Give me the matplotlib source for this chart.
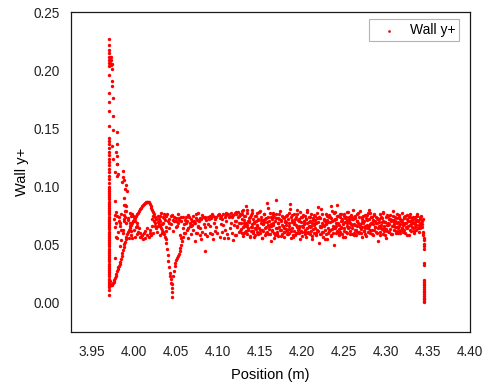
import numpy as np
import matplotlib
matplotlib.use("Agg")
import matplotlib.pyplot as plt

plt.rcParams['font.family'] = ['Liberation Sans', 'DejaVu Sans']

# ---------------- data ----------------
spike_pos = 3.9700
spike_y = [
    0.0069, 0.0112, 0.0135, 0.0152, 0.0171, 0.0190, 0.0208, 0.0227, 0.0246, 0.0263,
    0.0282, 0.0301, 0.0318, 0.0337, 0.0356, 0.0374, 0.0392, 0.0411, 0.0430, 0.0447,
    0.0466, 0.0485, 0.0503, 0.0521, 0.0540, 0.0558, 0.0577, 0.0595, 0.0613, 0.0632,
    0.0650, 0.0669, 0.0687, 0.0706, 0.0724, 0.0742, 0.0761, 0.0779, 0.0798, 0.0816,
    0.0835, 0.0853, 0.0871, 0.0890, 0.0908, 0.0927, 0.0945, 0.0963, 0.0982, 0.1000,
    0.1030, 0.1062, 0.1090, 0.1121, 0.1150, 0.1181, 0.1210, 0.1238, 0.1270, 0.1300,
    0.1330, 0.1362, 0.1390, 0.1420, 0.1520, 0.1647, 0.1727, 0.1800, 0.1957, 0.2040,
    0.2062, 0.2088, 0.2115, 0.2150, 0.2175, 0.2216, 0.2270]

upper_x = [3.9718, 3.9725, 3.9730, 3.9740, 3.9722, 3.9735, 3.9733, 3.9733, 3.9745, 3.9745,
           3.9748, 3.9796, 3.9796, 3.9796, 3.9796, 3.9776, 3.9792, 3.9868, 3.9883, 3.9903,
           3.9890, 3.9876, 3.9768, 3.9905, 3.9855, 3.9872, 3.9733, 3.9745, 3.9780, 3.9800,
           3.9815, 3.9880, 3.9895, 3.9920]
upper_y = [0.2065, 0.2045, 0.2085, 0.2055, 0.2110, 0.2010, 0.1908, 0.1865, 0.1759, 0.1606,
           0.1485, 0.1470, 0.1362, 0.1261, 0.1196, 0.1123, 0.1089, 0.1132, 0.1060, 0.1017,
           0.0975, 0.0900, 0.0873, 0.0830, 0.1035, 0.1085, 0.1347, 0.1233, 0.1300, 0.1190,
           0.1110, 0.0845, 0.0787, 0.0960]

dip_x = [3.9712, 3.9718, 3.9725, 3.9732, 3.9740, 3.9748, 3.9756, 3.9764, 3.9772, 3.9780,
         3.9789, 3.9797, 3.9805, 3.9813, 3.9820, 3.9828, 3.9836, 3.9844, 3.9852, 3.9860,
         3.9868, 3.9876, 3.9884, 3.9892, 3.9900, 3.9908, 3.9918, 3.9928, 3.9938, 3.9948,
         3.9958, 3.9968, 3.9978, 3.9990, 4.0002, 4.0014, 4.0027, 4.0040, 4.0052, 4.0064,
         4.0076, 4.0087, 4.0098, 4.0110, 4.0120, 4.0130, 4.0140, 4.0150, 4.0160, 4.0170,
         4.0178, 4.0188, 4.0198, 4.0208, 4.0218, 4.0228, 4.0240, 4.0252, 4.0266, 4.0280,
         4.0294, 4.0308, 4.0320, 4.0332, 4.0345, 4.0356, 4.0366, 4.0376, 4.0385, 4.0393,
         4.0400, 4.0408, 4.0416, 4.0424, 4.0432, 4.0440, 4.0446, 4.0450, 4.0452, 4.0453,
         4.0458, 4.0464, 4.0472, 4.0484, 4.0494, 4.0505, 4.0515, 4.0524, 4.0535, 4.0545,
         4.0552, 4.0557, 4.0570, 4.0585, 4.0605, 4.0625, 4.0645, 4.0665, 4.0695, 4.0725]
dip_y = [0.0185, 0.0165, 0.0155, 0.0152, 0.0158, 0.0168, 0.0182, 0.0198, 0.0215, 0.0233,
         0.0252, 0.0272, 0.0290, 0.0305, 0.0318, 0.0332, 0.0352, 0.0375, 0.0400, 0.0425,
         0.0452, 0.0478, 0.0502, 0.0525, 0.0548, 0.0568, 0.0592, 0.0612, 0.0630, 0.0645,
         0.0660, 0.0672, 0.0686, 0.0700, 0.0714, 0.0728, 0.0744, 0.0760, 0.0775, 0.0790,
         0.0804, 0.0816, 0.0830, 0.0843, 0.0853, 0.0860, 0.0864, 0.0866, 0.0870, 0.0868,
         0.0866, 0.0850, 0.0832, 0.0812, 0.0795, 0.0778, 0.0760, 0.0740, 0.0718, 0.0698,
         0.0680, 0.0660, 0.0642, 0.0625, 0.0606, 0.0588, 0.0570, 0.0545, 0.0515, 0.0465,
         0.0410, 0.0360, 0.0312, 0.0260, 0.0228, 0.0205, 0.0170, 0.0125, 0.0097, 0.0054,
         0.0165, 0.0227, 0.0270, 0.0313, 0.0345, 0.0370, 0.0388, 0.0400, 0.0420, 0.0442,
         0.0472, 0.0500, 0.0535, 0.0570, 0.0600, 0.0630, 0.0645, 0.0658, 0.0672, 0.0687]

left_x = [3.9769, 3.9796, 3.9789, 3.9780, 3.9822, 3.9834, 3.9796, 3.9834, 3.9769, 3.9868,
          3.9843, 3.9876, 3.9895, 3.9910, 3.9947, 3.9987, 3.9908, 3.9850, 3.9885, 3.9925,
          3.9960, 3.9975, 4.0005, 4.0030, 4.0020, 3.9995, 4.0045, 4.0087, 4.0100, 4.0127,
          4.0110, 4.0070, 4.0150, 4.0186, 4.0160, 4.0226, 4.0240, 4.0250, 4.0210, 4.0260,
          4.0275, 4.0326, 4.0310, 4.0365, 4.0385, 4.0350, 4.0400, 4.0420, 4.0440, 4.0464,
          4.0480, 4.0500, 4.0524, 4.0540, 4.0560, 4.0604, 4.0643, 4.0620, 4.0665, 4.0700,
          4.0744, 4.0760, 4.0544, 4.0560, 4.0600, 4.0723, 4.0385, 4.0306, 4.0286, 4.0330,
          4.0420, 4.0470, 4.0500, 4.0580, 4.0640, 4.0680, 4.0700, 4.0740, 4.0760, 3.9940,
          3.9960, 3.9980, 4.0010, 4.0040, 4.0200, 4.0230, 4.0300, 4.0340, 4.0360, 4.0450,
          4.0520, 4.0580, 4.0680, 4.0720]
left_y = [0.0759, 0.0744, 0.0687, 0.0570, 0.0700, 0.0658, 0.0557, 0.0485, 0.0385, 0.0600,
          0.0630, 0.0759, 0.0845, 0.0787, 0.0773, 0.0700, 0.0687, 0.0543, 0.0718, 0.0730,
          0.0745, 0.0760, 0.0735, 0.0690, 0.0655, 0.0630, 0.0610, 0.0570, 0.0580, 0.0557,
          0.0552, 0.0565, 0.0580, 0.0600, 0.0640, 0.0744, 0.0700, 0.0687, 0.0665, 0.0640,
          0.0610, 0.0773, 0.0750, 0.0716, 0.0744, 0.0690, 0.0700, 0.0725, 0.0680, 0.0716,
          0.0740, 0.0700, 0.0687, 0.0730, 0.0705, 0.0716, 0.0759, 0.0690, 0.0687, 0.0745,
          0.0730, 0.0773, 0.0586, 0.0557, 0.0600, 0.0528, 0.0615, 0.0586, 0.0658, 0.0600,
          0.0640, 0.0620, 0.0650, 0.0640, 0.0560, 0.0590, 0.0625, 0.0600, 0.0650, 0.0560,
          0.0580, 0.0555, 0.0570, 0.0590, 0.0580, 0.0600, 0.0720, 0.0740, 0.0765, 0.0755,
          0.0760, 0.0740, 0.0720, 0.0700]

left2_x = [3.9760, 3.9775, 3.9790, 3.9805, 3.9820, 3.9835, 3.9850, 3.9865, 3.9880, 3.9895,
           3.9930, 3.9950, 3.9970, 3.9990, 4.0015, 4.0035, 4.0055, 4.0075, 4.0095, 4.0115,
           4.0135, 4.0175, 4.0195, 4.0215, 4.0245, 4.0265, 4.0285, 4.0315, 4.0335, 4.0355,
           4.0375, 4.0395, 4.0415, 4.0435, 4.0475, 4.0495, 4.0515, 4.0535, 4.0565, 4.0595,
           4.0615, 4.0635, 4.0655, 4.0675, 4.0695, 4.0715, 4.0735, 4.0755]
left2_y = [0.0720, 0.0650, 0.0780, 0.0610, 0.0735, 0.0690, 0.0765, 0.0628, 0.0700, 0.0742,
           0.0715, 0.0690, 0.0620, 0.0745, 0.0700, 0.0662, 0.0640, 0.0598, 0.0585, 0.0600,
           0.0620, 0.0570, 0.0630, 0.0720, 0.0665, 0.0722, 0.0745, 0.0700, 0.0680, 0.0730,
           0.0652, 0.0760, 0.0690, 0.0745, 0.0700, 0.0728, 0.0660, 0.0712, 0.0740, 0.0680,
           0.0735, 0.0705, 0.0742, 0.0660, 0.0705, 0.0690, 0.0760, 0.0715]

mid_x = [4.076, 4.078, 4.080, 4.082, 4.084, 4.086, 4.088, 4.090, 4.092, 4.094,
         4.096, 4.098, 4.100, 4.102, 4.104, 4.106, 4.108, 4.110, 4.112, 4.114,
         4.116, 4.118, 4.120, 4.122, 4.124, 4.126, 4.128, 4.130,
         4.077, 4.081, 4.085, 4.089, 4.093, 4.097, 4.101, 4.105, 4.109, 4.113,
         4.117, 4.121, 4.125, 4.129, 4.133,
         4.075, 4.078, 4.081, 4.084, 4.087, 4.090, 4.093, 4.096, 4.099, 4.102,
         4.105, 4.108, 4.111, 4.114, 4.117, 4.120, 4.123, 4.126, 4.129,
         4.076, 4.079, 4.083, 4.085, 4.088, 4.091, 4.095, 4.098, 4.103, 4.106,
         4.110, 4.112, 4.115, 4.119, 4.122, 4.127, 4.131, 4.080, 4.094, 4.107,
         4.118, 4.085]
mid_y = [0.0715, 0.0732, 0.0718, 0.0740, 0.0726, 0.0712, 0.0738, 0.0745, 0.0728, 0.0750,
         0.0735, 0.0742, 0.0755, 0.0732, 0.0748, 0.0760, 0.0740, 0.0752, 0.0765, 0.0748,
         0.0770, 0.0758, 0.0775, 0.0762, 0.0780, 0.0768, 0.0790, 0.0800,
         0.0700, 0.0755, 0.0735, 0.0722, 0.0760, 0.0720, 0.0768, 0.0725, 0.0772, 0.0735,
         0.0740, 0.0785, 0.0750, 0.0760, 0.0830,
         0.0600, 0.0585, 0.0610, 0.0592, 0.0575, 0.0605, 0.0588, 0.0620, 0.0598, 0.0570,
         0.0612, 0.0630, 0.0595, 0.0640, 0.0605, 0.0585, 0.0650, 0.0620, 0.0600,
         0.0660, 0.0640, 0.0675, 0.0650, 0.0680, 0.0665, 0.0690, 0.0650, 0.0680, 0.0670,
         0.0700, 0.0560, 0.0685, 0.0672, 0.0700, 0.0690, 0.0660, 0.0550, 0.0545, 0.0560,
         0.0540, 0.0448]

band_x = [
    4.130, 4.131, 4.131, 4.132, 4.133, 4.133, 4.134, 4.134, 4.135, 4.136,
    4.136, 4.137, 4.137, 4.138, 4.139, 4.139, 4.140, 4.140, 4.141, 4.142,
    4.142, 4.143, 4.143, 4.144, 4.145, 4.145, 4.146, 4.146, 4.147, 4.148,
    4.148, 4.149, 4.149, 4.150, 4.151, 4.151, 4.152, 4.152, 4.153, 4.154,
    4.154, 4.155, 4.155, 4.156, 4.157, 4.157, 4.158, 4.158, 4.159, 4.160,
    4.160, 4.161, 4.161, 4.162, 4.163, 4.163, 4.164, 4.164, 4.165, 4.166,
    4.166, 4.167, 4.167, 4.168, 4.169, 4.169, 4.170, 4.170, 4.171, 4.172,
    4.172, 4.173, 4.173, 4.174, 4.175, 4.175, 4.176, 4.176, 4.177, 4.178,
    4.178, 4.179, 4.179, 4.180, 4.181, 4.181, 4.182, 4.182, 4.183, 4.184,
    4.184, 4.185, 4.185, 4.186, 4.187, 4.187, 4.188, 4.188, 4.189, 4.190,
    4.190, 4.191, 4.191, 4.192, 4.193, 4.193, 4.194, 4.194, 4.195, 4.196,
    4.196, 4.197, 4.197, 4.198, 4.199, 4.199, 4.200, 4.200, 4.201, 4.202,
    4.202, 4.203, 4.203, 4.204, 4.205, 4.205, 4.206, 4.206, 4.207, 4.208,
    4.208, 4.209, 4.209, 4.210, 4.211, 4.211, 4.212, 4.212, 4.213, 4.214,
    4.214, 4.215, 4.215, 4.216, 4.217, 4.217, 4.218, 4.218, 4.219, 4.220,
    4.220, 4.221, 4.221, 4.222, 4.223, 4.223, 4.224, 4.224, 4.225, 4.226,
    4.226, 4.227, 4.227, 4.228, 4.229, 4.229, 4.230, 4.230, 4.231, 4.232,
    4.232, 4.233, 4.233, 4.234, 4.235, 4.235, 4.236, 4.236, 4.237, 4.238,
    4.238, 4.239, 4.239, 4.240, 4.241, 4.241, 4.242, 4.242, 4.243, 4.244,
    4.244, 4.245, 4.245, 4.246, 4.247, 4.247, 4.248, 4.248, 4.249, 4.250,
    4.250, 4.251, 4.251, 4.252, 4.253, 4.253, 4.254, 4.254, 4.255, 4.256,
    4.256, 4.257, 4.257, 4.258, 4.259, 4.259, 4.260, 4.260, 4.261, 4.262,
    4.262, 4.263, 4.263, 4.264, 4.265, 4.265, 4.266, 4.266, 4.267, 4.268,
    4.268, 4.269, 4.269, 4.270, 4.271, 4.271, 4.272, 4.272, 4.273, 4.274,
    4.274, 4.275, 4.275, 4.276, 4.277, 4.277, 4.278, 4.278, 4.279, 4.280,
    4.280, 4.281, 4.281, 4.282, 4.283, 4.283, 4.284, 4.284, 4.285, 4.286,
    4.286, 4.287, 4.287, 4.288, 4.289, 4.289, 4.290, 4.290, 4.291, 4.292,
    4.292, 4.293, 4.293, 4.294, 4.295, 4.295, 4.296, 4.296, 4.297, 4.298,
    4.298, 4.299, 4.299, 4.300, 4.301, 4.301, 4.302, 4.302, 4.303, 4.304,
    4.304, 4.305, 4.305, 4.306, 4.307, 4.307, 4.308, 4.308, 4.309, 4.310,
    4.310, 4.311, 4.311, 4.312, 4.313, 4.313, 4.314, 4.314, 4.315, 4.316,
    4.316, 4.317, 4.317, 4.318, 4.319, 4.319, 4.320, 4.320, 4.321, 4.322,
    4.322, 4.323, 4.323, 4.324, 4.325, 4.325, 4.326, 4.326, 4.327, 4.328,
    4.328, 4.329, 4.329, 4.330, 4.331, 4.331, 4.332, 4.332, 4.333, 4.334,
    4.334, 4.335, 4.335, 4.336, 4.337, 4.337, 4.338, 4.338, 4.339, 4.340,
    4.340, 4.341, 4.341, 4.342, 4.342, 4.343, 4.343, 4.343, 4.344, 4.344]
band_y = [
    0.0655, 0.0712, 0.0598, 0.0748, 0.0683, 0.0621, 0.0772, 0.0667, 0.0589, 0.0705,
    0.0640, 0.0731, 0.0692, 0.0575, 0.0758, 0.0618, 0.0680, 0.0799, 0.0655, 0.0602,
    0.0725, 0.0688, 0.0567, 0.0745, 0.0632, 0.0701, 0.0612, 0.0770, 0.0660, 0.0590,
    0.0718, 0.0648, 0.0782, 0.0602, 0.0690, 0.0738, 0.0625, 0.0560, 0.0710, 0.0675,
    0.0615, 0.0760, 0.0695, 0.0583, 0.0728, 0.0650, 0.0862, 0.0607, 0.0742, 0.0668,
    0.0592, 0.0705, 0.0635, 0.0776, 0.0660, 0.0528, 0.0720, 0.0628, 0.0690, 0.0752,
    0.0670, 0.0603, 0.0738, 0.0580, 0.0882, 0.0765, 0.0640, 0.0612, 0.0730, 0.0685,
    0.0571, 0.0717, 0.0655, 0.0793, 0.0628, 0.0700, 0.0595, 0.0745, 0.0662, 0.0610,
    0.0728, 0.0648, 0.0565, 0.0705, 0.0697, 0.0672, 0.0618, 0.0756, 0.0590, 0.0690,
    0.0637, 0.0772, 0.0600, 0.0853, 0.0740, 0.0558, 0.0715, 0.0645, 0.0582, 0.0698,
    0.0760, 0.0622, 0.0690, 0.0585, 0.0735, 0.0668, 0.0603, 0.0795, 0.0710, 0.0642,
    0.0598, 0.0725, 0.0660, 0.0780, 0.0615, 0.0695, 0.0572, 0.0740, 0.0650, 0.0708,
    0.0675, 0.0608, 0.0748, 0.0630, 0.0565, 0.0720, 0.0690, 0.0795, 0.0612, 0.0660,
    0.0735, 0.0588, 0.0702, 0.0655, 0.0768, 0.0620, 0.0690, 0.0548, 0.0728, 0.0672,
    0.0605, 0.0750, 0.0640, 0.0712, 0.0580, 0.0685, 0.0775, 0.0628, 0.0698, 0.0515,
    0.0742, 0.0662, 0.0595, 0.0730, 0.0650, 0.0805, 0.0612, 0.0688, 0.0570, 0.0722,
    0.0658, 0.0700, 0.0625, 0.0762, 0.0590, 0.0680, 0.0545, 0.0715, 0.0642, 0.0752,
    0.0618, 0.0695, 0.0740, 0.0575, 0.0830, 0.0728, 0.0635, 0.0790, 0.0602, 0.0500,
    0.0710, 0.0645, 0.0782, 0.0600, 0.0722, 0.0662, 0.0845, 0.0745, 0.0690, 0.0580,
    0.0638, 0.0768, 0.0612, 0.0702, 0.0760, 0.0655, 0.0725, 0.0592, 0.0680, 0.0748,
    0.0620, 0.0692, 0.0565, 0.0735, 0.0660, 0.0712, 0.0602, 0.0778, 0.0648, 0.0700,
    0.0738, 0.0615, 0.0685, 0.0752, 0.0590, 0.0668, 0.0722, 0.0640, 0.0795, 0.0605,
    0.0678, 0.0730, 0.0625, 0.0580, 0.0705, 0.0658, 0.0762, 0.0612, 0.0690, 0.0740,
    0.0598, 0.0672, 0.0787, 0.0635, 0.0718, 0.0568, 0.0695, 0.0652, 0.0745, 0.0622,
    0.0705, 0.0645, 0.0590, 0.0728, 0.0668, 0.0755, 0.0610, 0.0770, 0.0640, 0.0720,
    0.0662, 0.0770, 0.0605, 0.0690, 0.0735, 0.0628, 0.0715, 0.0585, 0.0680, 0.0752,
    0.0630, 0.0708, 0.0655, 0.0742, 0.0598, 0.0688, 0.0528, 0.0725, 0.0648, 0.0695,
    0.0718, 0.0612, 0.0760, 0.0670, 0.0638, 0.0730, 0.0595, 0.0705, 0.0772, 0.0660,
    0.0645, 0.0698, 0.0582, 0.0738, 0.0668, 0.0620, 0.0748, 0.0690, 0.0612, 0.0725,
    0.0680, 0.0752, 0.0635, 0.0700, 0.0590, 0.0715, 0.0660, 0.0787, 0.0625, 0.0692,
    0.0712, 0.0650, 0.0740, 0.0602, 0.0685, 0.0728, 0.0640, 0.0695, 0.0758, 0.0618,
    0.0665, 0.0722, 0.0598, 0.0705, 0.0770, 0.0645, 0.0688, 0.0612, 0.0735, 0.0675,
    0.0630, 0.0748, 0.0690, 0.0655, 0.0718, 0.0582, 0.0702, 0.0660, 0.0742, 0.0628,
    0.0708, 0.0668, 0.0760, 0.0615, 0.0695, 0.0730, 0.0642, 0.0685, 0.0600, 0.0720,
    0.0655, 0.0738, 0.0678, 0.0625, 0.0712, 0.0765, 0.0648, 0.0700, 0.0672, 0.0735,
    0.0690, 0.0640, 0.0718, 0.0662, 0.0745, 0.0680, 0.0705, 0.0652, 0.0725, 0.0610]

band2_x = [
    4.1205, 4.1215, 4.1225, 4.1235, 4.1245, 4.1255, 4.1265, 4.1275, 4.1285, 4.1295,
    4.1305, 4.1315, 4.1325, 4.1335, 4.1345, 4.1355, 4.1365, 4.1375, 4.1385, 4.1395,
    4.1405, 4.1415, 4.1425, 4.1435, 4.1445, 4.1455, 4.1465, 4.1475, 4.1485, 4.1495,
    4.1505, 4.1515, 4.1525, 4.1535, 4.1545, 4.1555, 4.1565, 4.1575, 4.1585, 4.1595,
    4.1605, 4.1615, 4.1625, 4.1635, 4.1645, 4.1655, 4.1665, 4.1675, 4.1685, 4.1695,
    4.1705, 4.1715, 4.1725, 4.1735, 4.1745, 4.1755, 4.1765, 4.1775, 4.1785, 4.1795,
    4.1805, 4.1815, 4.1825, 4.1835, 4.1845, 4.1855, 4.1865, 4.1875, 4.1885, 4.1895,
    4.1905, 4.1915, 4.1925, 4.1935, 4.1945, 4.1955, 4.1965, 4.1975, 4.1985, 4.1995,
    4.2005, 4.2015, 4.2025, 4.2035, 4.2045, 4.2055, 4.2065, 4.2075, 4.2085, 4.2095,
    4.2105, 4.2115, 4.2125, 4.2135, 4.2145, 4.2155, 4.2165, 4.2175, 4.2185, 4.2195,
    4.2205, 4.2215, 4.2225, 4.2235, 4.2245, 4.2255, 4.2265, 4.2275, 4.2285, 4.2295,
    4.2305, 4.2315, 4.2325, 4.2335, 4.2345, 4.2355, 4.2365, 4.2375, 4.2385, 4.2395,
    4.2405, 4.2415, 4.2425, 4.2435, 4.2445, 4.2455, 4.2465, 4.2475, 4.2485, 4.2495,
    4.2505, 4.2515, 4.2525, 4.2535, 4.2545, 4.2555, 4.2565, 4.2575, 4.2585, 4.2595,
    4.2605, 4.2615, 4.2625, 4.2635, 4.2645, 4.2655, 4.2665, 4.2675, 4.2685, 4.2695,
    4.2705, 4.2715, 4.2725, 4.2735, 4.2745, 4.2755, 4.2765, 4.2775, 4.2785, 4.2795,
    4.2805, 4.2815, 4.2825, 4.2835, 4.2845, 4.2855, 4.2865, 4.2875, 4.2885, 4.2895,
    4.2905, 4.2915, 4.2925, 4.2935, 4.2945, 4.2955, 4.2965, 4.2975, 4.2985, 4.2995,
    4.3005, 4.3015, 4.3025, 4.3035, 4.3045, 4.3055, 4.3065, 4.3075, 4.3085, 4.3095,
    4.3105, 4.3115, 4.3125, 4.3135, 4.3145, 4.3155, 4.3165, 4.3175, 4.3185, 4.3195,
    4.3205, 4.3215, 4.3225, 4.3235, 4.3245, 4.3255, 4.3265, 4.3275, 4.3285, 4.3295,
    4.3305, 4.3315, 4.3325, 4.3335, 4.3345, 4.3355, 4.3365, 4.3375, 4.3385, 4.3395]
band2_y = [
    0.0702, 0.0580, 0.0665, 0.0738, 0.0612, 0.0690, 0.0755, 0.0635, 0.0718, 0.0572,
    0.0685, 0.0750, 0.0608, 0.0662, 0.0795, 0.0628, 0.0702, 0.0568, 0.0735, 0.0650,
    0.0772, 0.0618, 0.0698, 0.0642, 0.0580, 0.0745, 0.0668, 0.0710, 0.0598, 0.0788,
    0.0630, 0.0712, 0.0555, 0.0680, 0.0760, 0.0645, 0.0725, 0.0600, 0.0692, 0.0818,
    0.0658, 0.0590, 0.0742, 0.0675, 0.0620, 0.0775, 0.0560, 0.0705, 0.0648, 0.0730,
    0.0595, 0.0688, 0.0762, 0.0625, 0.0712, 0.0578, 0.0668, 0.0740, 0.0610, 0.0698,
    0.0745, 0.0638, 0.0588, 0.0720, 0.0660, 0.0805, 0.0615, 0.0692, 0.0752, 0.0570,
    0.0678, 0.0725, 0.0602, 0.0655, 0.0768, 0.0630, 0.0700, 0.0548, 0.0735, 0.0662,
    0.0612, 0.0758, 0.0685, 0.0590, 0.0722, 0.0648, 0.0780, 0.0605, 0.0695, 0.0740,
    0.0665, 0.0575, 0.0710, 0.0635, 0.0752, 0.0688, 0.0598, 0.0728, 0.0822, 0.0620,
    0.0730, 0.0652, 0.0590, 0.0765, 0.0672, 0.0612, 0.0715, 0.0545, 0.0690, 0.0748,
    0.0602, 0.0695, 0.0738, 0.0628, 0.0580, 0.0708, 0.0660, 0.0775, 0.0640, 0.0722,
    0.0688, 0.0615, 0.0750, 0.0670, 0.0598, 0.0735, 0.0645, 0.0700, 0.0565, 0.0760,
    0.0640, 0.0728, 0.0612, 0.0690, 0.0785, 0.0655, 0.0718, 0.0592, 0.0675, 0.0742,
    0.0720, 0.0585, 0.0668, 0.0748, 0.0625, 0.0700, 0.0770, 0.0608, 0.0682, 0.0650,
    0.0598, 0.0735, 0.0690, 0.0615, 0.0758, 0.0662, 0.0575, 0.0712, 0.0640, 0.0795,
    0.0675, 0.0630, 0.0742, 0.0592, 0.0705, 0.0765, 0.0652, 0.0688, 0.0610, 0.0728,
    0.0718, 0.0660, 0.0582, 0.0735, 0.0645, 0.0698, 0.0778, 0.0620, 0.0692, 0.0562,
    0.0635, 0.0752, 0.0672, 0.0608, 0.0725, 0.0590, 0.0710, 0.0662, 0.0745, 0.0682,
    0.0700, 0.0618, 0.0765, 0.0655, 0.0598, 0.0738, 0.0680, 0.0625, 0.0712, 0.0648,
    0.0668, 0.0728, 0.0605, 0.0690, 0.0755, 0.0640, 0.0702, 0.0585, 0.0735, 0.0675,
    0.0710, 0.0650, 0.0738, 0.0622, 0.0695, 0.0668, 0.0745, 0.0640, 0.0705, 0.0612]

end_x = [4.3440, 4.3444, 4.3448, 4.3450, 4.3452, 4.3454, 4.3456, 4.3456, 4.3456, 4.3457,
         4.3457, 4.3457, 4.3457, 4.3457, 4.3457, 4.3457, 4.3457, 4.3457, 4.3457, 4.3457,
         4.3457, 4.3457, 4.3457]
end_y = [0.0600, 0.0586, 0.0560, 0.0543, 0.0510, 0.0485, 0.0460, 0.0342, 0.0325, 0.0198,
         0.0182, 0.0166, 0.0150, 0.0135, 0.0120, 0.0105, 0.0090, 0.0075, 0.0060, 0.0045,
         0.0030, 0.0018, 0.0008]

x_ticks = [3.95, 4.00, 4.05, 4.10, 4.15, 4.20, 4.25, 4.30, 4.35, 4.40]
y_ticks = [0.00, 0.05, 0.10, 0.15, 0.20, 0.25]

# ---------------- plot ----------------
xs = np.concatenate([np.full(len(spike_y), spike_pos), upper_x, dip_x, left_x, left2_x,
                     mid_x, band_x, band2_x, end_x])
ys = np.concatenate([spike_y, upper_y, dip_y, left_y, left2_y, mid_y, band_y, band2_y, end_y])

fig = plt.figure(figsize=(4.9, 3.87), dpi=100)
ax = fig.add_axes([71 / 490, 55 / 387, 399 / 490, 320 / 387])
ax.scatter(xs, ys, s=6, c='#ff0000', marker='o', linewidths=0, label='Wall y+')

ax.set_xlim(3.925, 4.40)
ax.set_ylim(-0.025, 0.25)
ax.set_xticks(x_ticks)
ax.set_xticklabels([f"{t:.2f}" for t in x_ticks])
ax.set_yticks(y_ticks)
ax.set_yticklabels([f"{t:.2f}" for t in y_ticks])
ax.tick_params(length=0, labelsize=9.8, colors='#222222')
ax.tick_params(axis='x', pad=9)
ax.tick_params(axis='y', pad=8)
for sp in ax.spines.values():
    sp.set_color('#1a1a1a')
    sp.set_linewidth(0.9)

ax.set_xlabel('Position (m)', fontsize=10.5, labelpad=7)
ax.set_ylabel('Wall y+', fontsize=10.5, labelpad=3)

leg = ax.legend(loc='upper right', bbox_to_anchor=((459.3 - 71) / 399, (332 - 19) / 320),
                borderaxespad=0, frameon=True, fancybox=False, edgecolor='#a0a0a0',
                fontsize=10, markerscale=0.8, handletextpad=0.4, borderpad=0.3,
                handlelength=2.2)
leg.get_frame().set_linewidth(0.8)

fig.savefig('out.png', dpi=100)
